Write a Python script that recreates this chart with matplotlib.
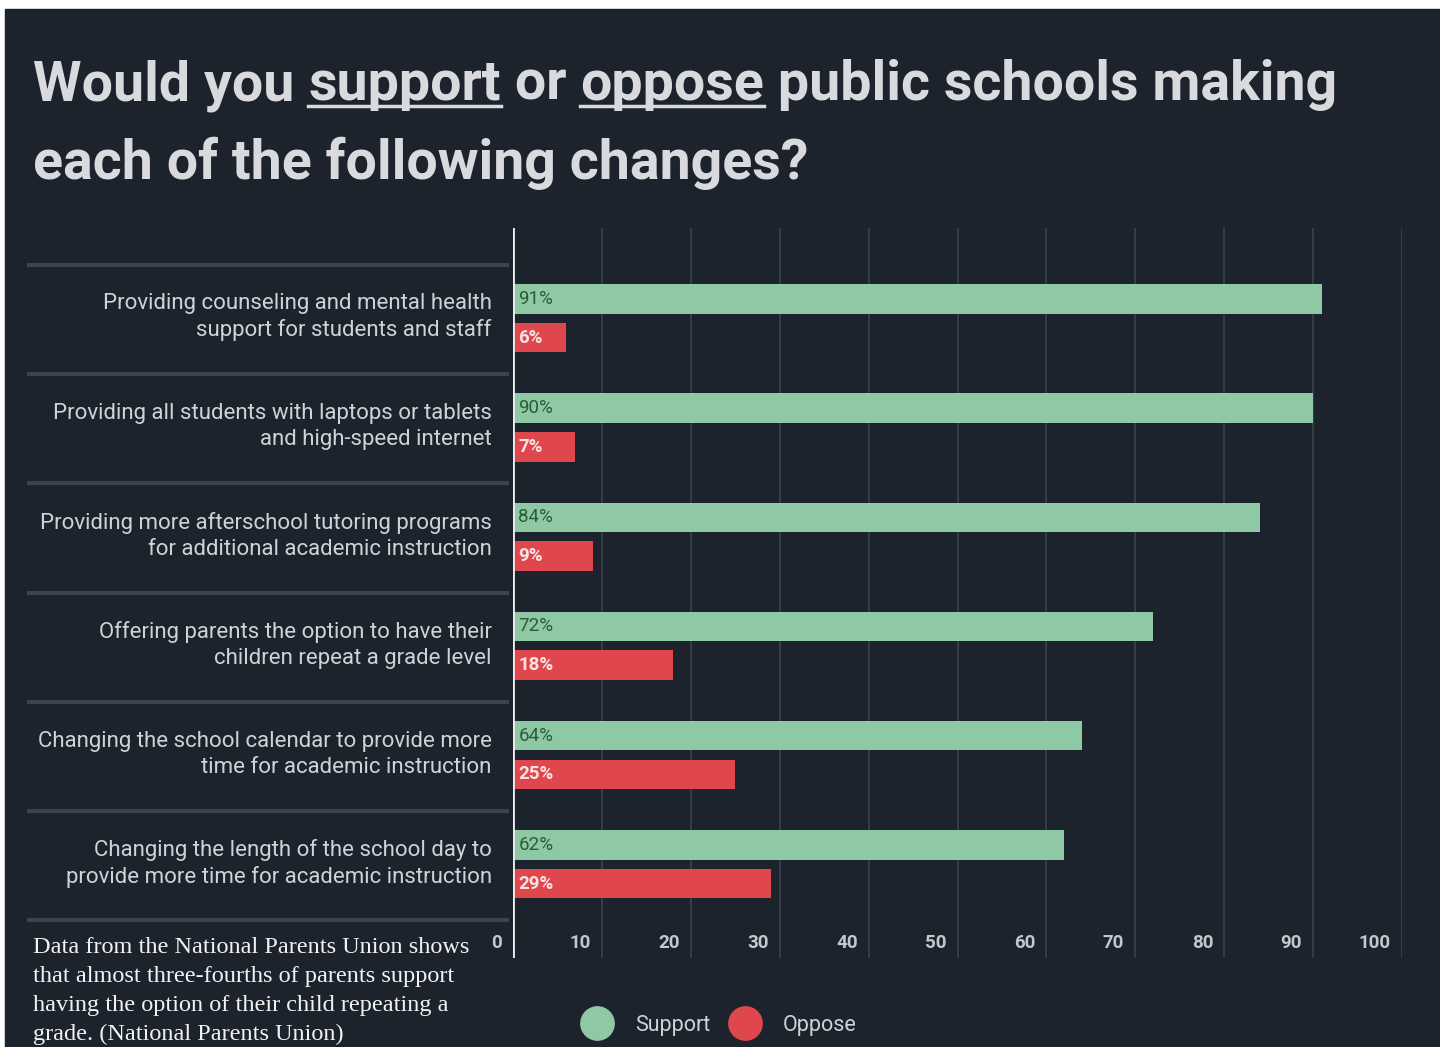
import matplotlib.pyplot as plt
from matplotlib.lines import Line2D
from matplotlib.patches import Rectangle
from matplotlib.transforms import offset_copy
import numpy as np

# survey data (National Parents Union)
categories = [
    "Providing counseling and mental health\nsupport for students and staff",
    "Providing all students with laptops or tablets\nand high-speed internet",
    "Providing more afterschool tutoring programs\nfor additional academic instruction",
    "Offering parents the option to have their\nchildren repeat a grade level",
    "Changing the school calendar to provide more\ntime for academic instruction",
    "Changing the length of the school day to\nprovide more time for academic instruction",
]
support = [91, 90, 84, 72, 64, 62]
oppose = [6, 7, 9, 18, 25, 29]
ticks = [0, 10, 20, 30, 40, 50, 60, 70, 80, 90, 100]
legend_labels = ["Support", "Oppose"]

caption = ("Data from the National Parents Union shows\n"
           "that almost three-fourths of parents support\n"
           "having the option of their child repeating a\n"
           "grade. (National Parents Union)")

BG = '#1c232d'
GREEN = '#8ec8a4'
RED = '#e0474c'
GRID = '#39424e'
LABEL = '#d0d3d6'
SANS = ['Roboto', 'DejaVu Sans']

W, H = 1440, 1047
fig = plt.figure(figsize=(W / 100, H / 100), dpi=100, facecolor='white')
# dark card with thin white border top/left like the screenshot
fig.patches.append(Rectangle((5 / W, 0), 1, (H - 9) / H, transform=fig.transFigure,
                             color=BG, zorder=-10))


def px(x, y):
    return x / W, (H - y) / H


# ---- title with underlined words ----
renderer = fig.canvas.get_renderer()


def text_width(s, **kw):
    t = fig.text(0, 0, s + '|', **kw)
    w1 = t.get_window_extent(renderer).width
    t.remove()
    t = fig.text(0, 0, '|', **kw)
    w2 = t.get_window_extent(renderer).width
    t.remove()
    return w1 - w2


title_kw = dict(fontsize=40, fontweight='bold', family=SANS, color='#d9dadd')
line1 = [("Would you ", False), ("support", True), (" or ", False),
         ("oppose", True), (" public schools making", False)]
x0 = 33
for piece, under in line1:
    w = text_width(piece, **title_kw)
    fig.text(*px(x0, 100), piece, va='baseline', ha='left', **title_kw)
    if under:
        fig.add_artist(Line2D([x0 / W, (x0 + w) / W], [(H - 105.5) / H] * 2,
                              color='#d9dadd', lw=2.5, transform=fig.transFigure))
    x0 += w
fig.text(*px(33, 179), "each of the following changes?", va='baseline', ha='left', **title_kw)

# ---- main axes ----
ax = fig.add_axes([513 / W, (H - 958) / H, 889 / W, 730 / H])
ax.set_facecolor('none')
ax.set_xlim(0, 100)
ax.set_ylim(6.346, -0.339)
for s in ax.spines.values():
    s.set_visible(False)
ax.set_xticks(ticks)
ax.set_yticks([])
ax.tick_params(length=0, labelbottom=False)
ax.grid(axis='x', color=GRID, lw=1.2)
ax.set_axisbelow(True)

y = np.arange(len(categories)) + 0.5
ax.barh(y - 0.19, support, height=0.27, color=GREEN, zorder=2)
ax.barh(y + 0.165, oppose, height=0.27, color=RED, zorder=2)
ax.axvline(0, color='#eeeeee', lw=2, zorder=3)

for yi, s_val, o_val in zip(y, support, oppose):
    ax.text(0.6, yi - 0.19, f"{s_val}%", va='center', ha='left', fontsize=13.5,
            color='#2c5b3c', family=SANS, zorder=4)
    ax.text(0.6, yi + 0.165, f"{o_val}%", va='center', ha='left', fontsize=13.5,
            color='#fbe3e3', family=SANS, fontweight='bold', zorder=4)

# category labels and separators in the left margin
for yi, cat in zip(y, categories):
    ax.text(-2.4, yi - 0.02, cat, ha='right', va='center', fontsize=16,
            color=LABEL, family=SANS, linespacing=1.3, clip_on=False)
for b in range(len(categories) + 1):
    ax.plot([-54.7, -0.4], [b, b], color='#3a4350', lw=3, clip_on=False,
            solid_capstyle='butt')

# tick labels sit just left of each gridline
tick_tr = offset_copy(ax.transData, fig=fig, x=-11, y=0, units='dots')
for t in ticks:
    ax.text(t, 6.21, str(t), transform=tick_tr, ha='right', va='center',
            fontsize=13.5, fontweight='bold', color='#c4c8cc', family=SANS)

# legend
handles = [Line2D([], [], ls='', marker='o', markersize=24, color=c) for c in (GREEN, RED)]
leg = fig.legend(handles, legend_labels, loc='center', bbox_to_anchor=px(716, 1025),
                 ncol=2, frameon=False, handletextpad=0.75, columnspacing=0.6,
                 prop={'family': SANS, 'size': 15.5})
for txt in leg.get_texts():
    txt.set_color(LABEL)

# caption
fig.text(*px(33, 937), caption, ha='left', va='top', fontsize=17.5,
         family=['Liberation Serif', 'DejaVu Serif'], color='#f2f2f2', linespacing=1.5)

fig.savefig('out.png', dpi=100, facecolor=fig.get_facecolor())
